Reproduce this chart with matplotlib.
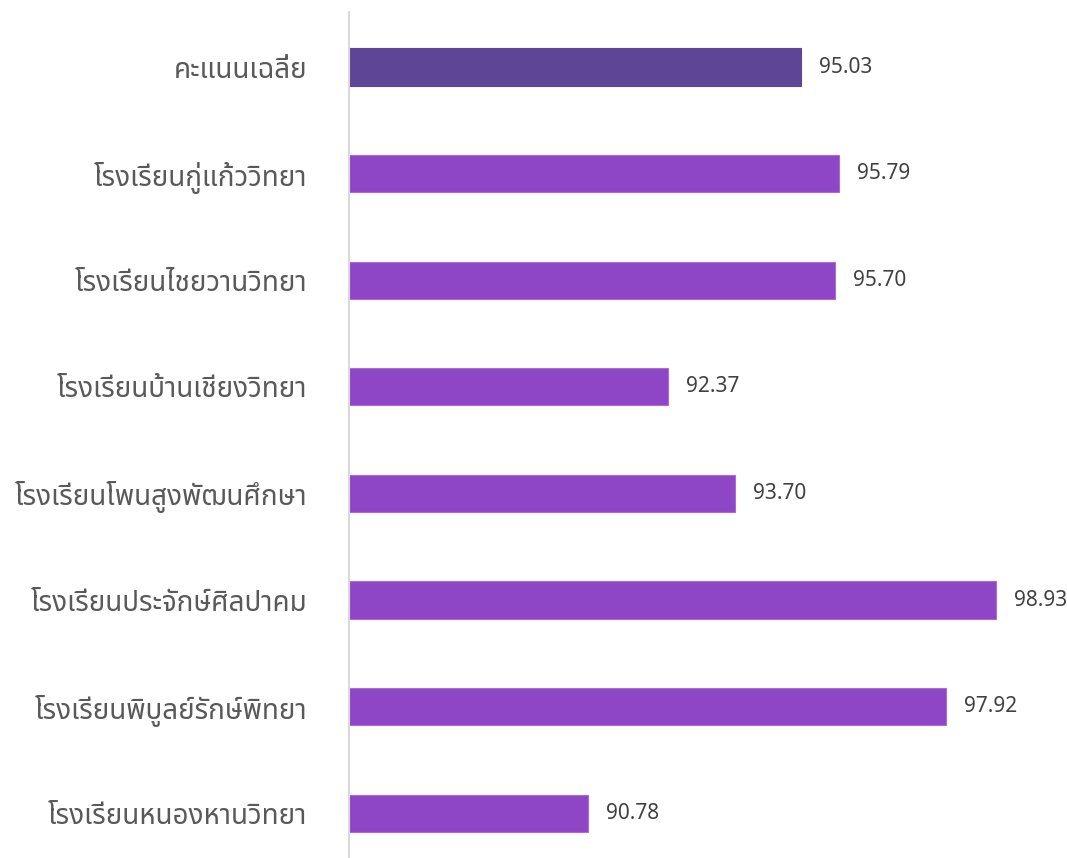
import matplotlib.pyplot as plt

# data
schools = [
    "คะแนนเฉลี่ย",
    "โรงเรียนกู่แก้ววิทยา",
    "โรงเรียนไชยวานวิทยา",
    "โรงเรียนบ้านเชียงวิทยา",
    "โรงเรียนโพนสูงพัฒนศึกษา",
    "โรงเรียนประจักษ์ศิลปาคม",
    "โรงเรียนพิบูลย์รักษ์พิทยา",
    "โรงเรียนหนองหานวิทยา",
]
scores = [95.03, 95.79, 95.70, 92.37, 93.70, 98.93, 97.92, 90.78]

plt.rcParams['font.family'] = ['Noto Sans Thai', 'Loma', 'Garuda', 'Tlwg Typo',
                               'DejaVu Sans', 'Noto Sans']

fig = plt.figure(figsize=(10.67, 8.58), dpi=100)
ax = fig.add_axes([349 / 1067, 0, (1050 - 349) / 1067, (858 - 12) / 858])

colors = ["#5E4595"] + ["#8E46C6"] * (len(scores) - 1)
edges = ["#5E4595"] + ["#A86BD8"] * (len(scores) - 1)
ypos = list(range(len(scores)))
ax.barh(ypos, [s - 86 for s in scores], left=86, height=0.35,
        color=colors, edgecolor=edges, linewidth=0.8)

for y, s in zip(ypos, scores):
    ax.annotate(f"{s:.2f}", (s, y), xytext=(13, 0), textcoords="offset points",
                va="center", ha="left", fontsize=15, color="#404040")

ax.set_xlim(86, 100)
ax.set_ylim(7.42, -0.516)
ax.set_yticks(ypos)
ax.set_yticklabels(schools, fontsize=20, color="#595959", fontweight="light")
ax.tick_params(axis="y", length=0, pad=30)
ax.set_xticks([])

for side in ["top", "right", "bottom"]:
    ax.spines[side].set_visible(False)
ax.spines["left"].set_color("#D9D9D9")
ax.spines["left"].set_linewidth(1.5)

fig.savefig("out.png", dpi=100)
